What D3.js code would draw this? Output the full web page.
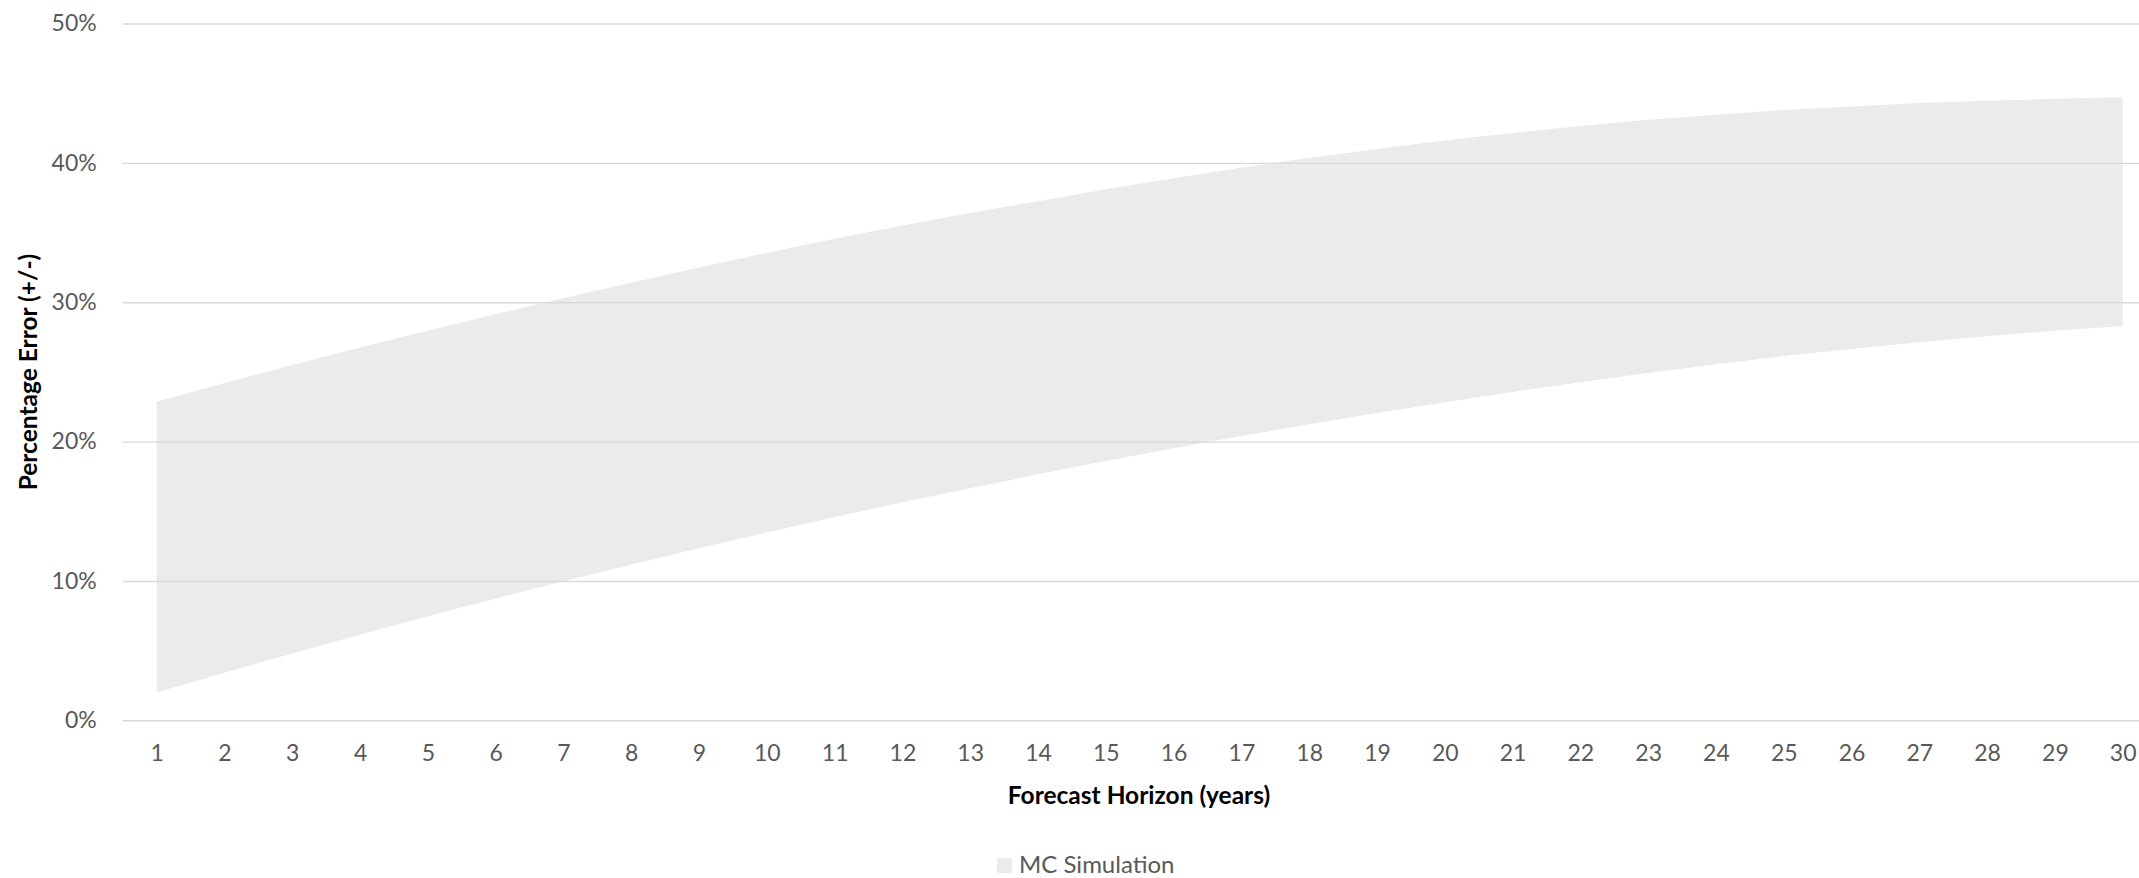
<!DOCTYPE html>
<html>
<head>
<meta charset="utf-8">
<script src="https://cdn.jsdelivr.net/npm/d3@7"></script>
<style>
  html, body { margin: 0; padding: 0; background: #ffffff; }
  svg { display: block; }
</style>
</head>
<body>
<svg id="chart" width="2139" height="878"></svg>
<script>
// Forecast horizon in years
const years = d3.range(1, 31);

// Lower bound of the simulated error band (%)
const lowerBound = [2.0, 3.42, 4.80, 6.15, 7.46, 8.74, 9.98, 11.18, 12.35, 13.48,
  14.58, 15.64, 16.66, 17.65, 18.60, 19.52, 20.40, 21.24, 22.05, 22.82,
  23.56, 24.26, 24.92, 25.55, 26.14, 26.65, 27.12, 27.55, 27.95, 28.3];

// Upper bound of the simulated error band (%)
const upperBound = [22.85, 24.2, 25.5, 26.75, 27.95, 29.15, 30.3, 31.4, 32.5, 33.55,
  34.55, 35.5, 36.4, 37.25, 38.1, 38.9, 39.65, 40.35, 41.0, 41.6,
  42.15, 42.65, 43.1, 43.45, 43.8, 44.05, 44.3, 44.45, 44.6, 44.7];

const yTicks = [0, 10, 20, 30, 40, 50];
const seriesName = "MC Simulation";
const xTitle = "Forecast Horizon (years)";
const yTitle = "Percentage Error (+/-)";

const band = years.map((yr, i) => ({ year: yr, lo: lowerBound[i], hi: upperBound[i] }));

const svg = d3.select("#chart");
const font = "Lato, 'Open Sans', sans-serif";
const labelColor = "#595959";

const x = d3.scaleLinear().domain([1, 30]).range([156.7, 2122.7]);
const y = d3.scaleLinear().domain([0, 50]).range([720.3, 23.5]);

const plotLeft = 122.7, plotRight = 2157;

// Band between lower and upper bounds
const area = d3.area()
  .x(d => x(d.year))
  .y0(d => y(d.lo))
  .y1(d => y(d.hi));

svg.append("path")
  .datum(band)
  .attr("d", area)
  .attr("fill", "#ebebeb");

// Horizontal gridlines (drawn above the band)
const yAxis = d3.axisLeft(y)
  .tickValues(yTicks)
  .tickSize(-(plotRight - plotLeft))
  .tickPadding(26)
  .tickFormat(d => d + "%");

const gy = svg.append("g")
  .attr("transform", `translate(${plotLeft},0)`)
  .call(yAxis);
gy.select(".domain").remove();
gy.selectAll(".tick line")
  .attr("stroke", "#d9d9d9")
  .attr("stroke-width", 1.4);
gy.selectAll(".tick text")
  .attr("fill", labelColor)
  .attr("font-family", font)
  .attr("font-size", "23px");

// Category labels along the bottom
const xAxis = d3.axisBottom(x)
  .tickValues(years)
  .tickSize(0)
  .tickPadding(24)
  .tickFormat(d3.format("d"));

const gx = svg.append("g")
  .attr("transform", `translate(0,${y(0)})`)
  .call(xAxis);
gx.select(".domain").remove();
gx.selectAll(".tick text")
  .attr("fill", labelColor)
  .attr("font-family", font)
  .attr("font-size", "23px");

// Axis titles
svg.append("text")
  .attr("x", 1139)
  .attr("y", 804)
  .attr("text-anchor", "middle")
  .attr("font-family", font)
  .attr("font-weight", "bold")
  .attr("font-size", "24.5px")
  .attr("fill", "#000000")
  .text(xTitle);

svg.append("text")
  .attr("transform", `translate(37,372) rotate(-90)`)
  .attr("text-anchor", "middle")
  .attr("font-family", font)
  .attr("font-weight", "bold")
  .attr("font-size", "24.5px")
  .attr("fill", "#000000")
  .text(yTitle);

// Legend
const legend = svg.append("g").attr("transform", "translate(997,858)");
legend.append("rect")
  .attr("width", 15)
  .attr("height", 15)
  .attr("fill", "#ebebeb");
legend.append("text")
  .attr("x", 22)
  .attr("y", 15)
  .attr("font-family", font)
  .attr("font-size", "24px")
  .attr("fill", labelColor)
  .text(seriesName);
</script>
</body>
</html>
